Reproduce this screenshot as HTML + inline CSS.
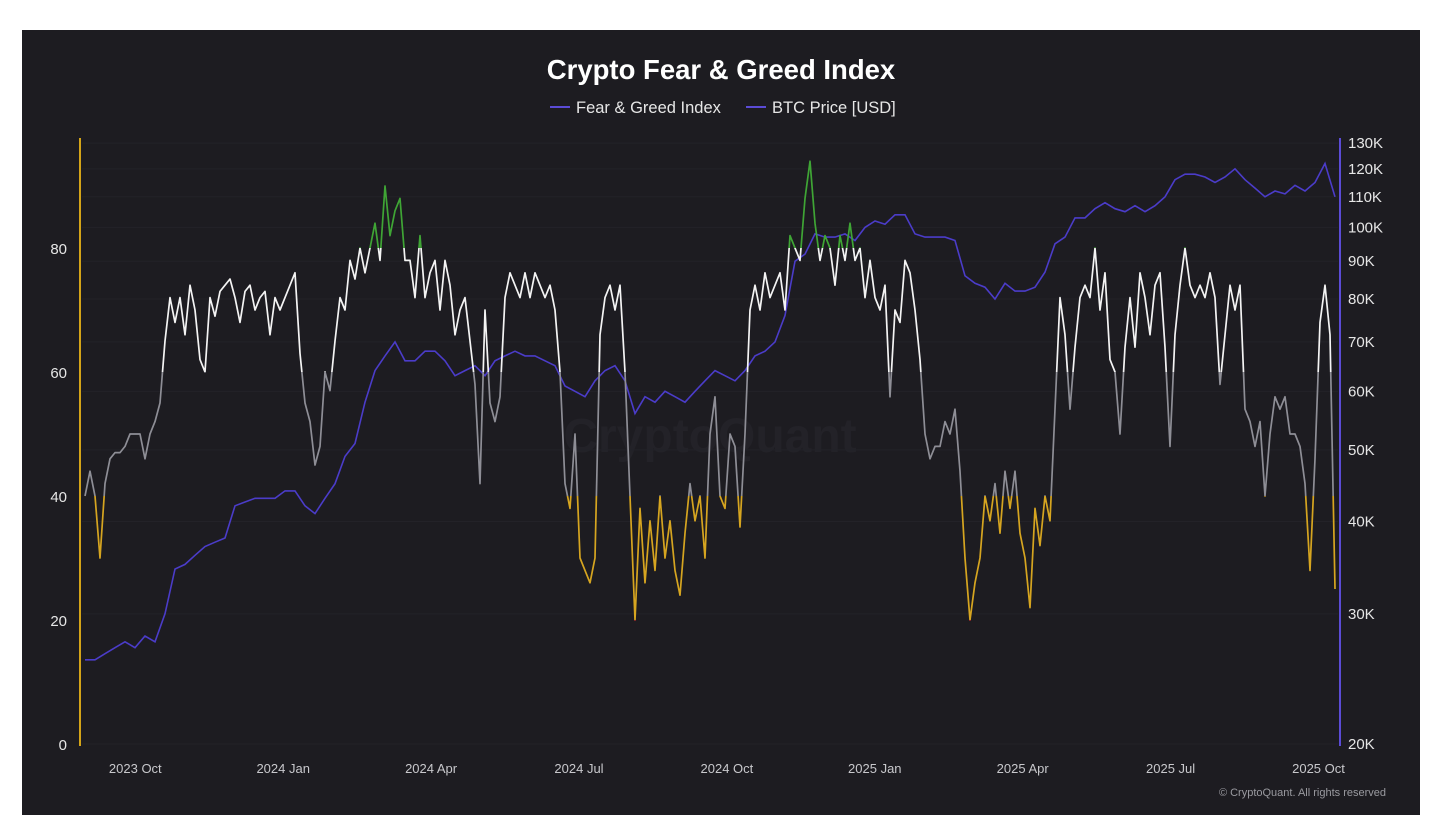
<!DOCTYPE html>
<html><head><meta charset="utf-8">
<style>
html,body{margin:0;padding:0;background:#fff;width:1454px;height:832px;overflow:hidden}
#panel{position:absolute;left:22px;top:30px;width:1398px;height:785px;background:#1d1c21}
svg{position:absolute;left:0;top:0}
text{font-family:"Liberation Sans",sans-serif}
</style></head><body>
<div id="panel"></div>
<svg id="chart" width="1454" height="832">
<text x="721" y="79" text-anchor="middle" fill="#fff" font-size="27.5" font-weight="bold">Crypto Fear &amp; Greed Index</text>
<g><line x1="550" y1="107" x2="570" y2="107" stroke="#5b4bd6" stroke-width="2"/><text x="576" y="113" fill="#e6e6e6" font-size="16.5">Fear &amp; Greed Index</text></g>
<g><line x1="746" y1="107" x2="766" y2="107" stroke="#5b4bd6" stroke-width="2"/><text x="772" y="113" fill="#e6e6e6" font-size="16.5">BTC Price [USD]</text></g>
<text x="710" y="452" text-anchor="middle" fill="#232228" font-size="48" font-weight="bold">CryptoQuant</text>
<g id="grid"></g><g id="yl"></g><g id="yr"></g><g id="xl"></g>
<line x1="80" y1="138" x2="80" y2="746" stroke="#d4a418" stroke-width="2"/>
<line x1="1340" y1="138" x2="1340" y2="746" stroke="#5b4bd6" stroke-width="2"/>
<defs id="defs"></defs>
<g id="series"></g>
<text x="1386" y="796" text-anchor="end" fill="#9a9aa0" font-size="11">© CryptoQuant. All rights reserved</text>
</svg>
<script>
const fgValues=[40,44,40,30,42,46,47,47,48,50,50,50,46,50,52,55,65,72,68,72,66,74,70,62,60,72,69,73,74,75,72,68,73,74,70,72,73,66,72,70,72,74,76,63,55,52,45,48,60,57,65,72,70,78,75,80,76,80,84,78,90,82,86,88,78,78,72,82,72,76,78,70,78,74,66,70,72,65,58,42,70,55,52,56,72,76,74,72,76,72,76,74,72,74,70,60,42,38,50,30,28,26,30,66,72,74,70,74,60,40,20,38,26,36,28,40,30,36,28,24,34,42,36,40,30,50,56,40,38,50,48,35,50,70,74,70,76,72,74,76,70,82,80,78,88,94,84,78,82,80,74,82,78,84,78,80,72,78,72,70,74,56,70,68,78,76,70,62,50,46,48,48,52,50,54,44,30,20,26,30,40,36,42,34,44,38,44,34,30,22,38,32,40,36,54,72,66,54,64,72,74,72,80,70,76,62,60,50,64,72,64,76,72,66,74,76,64,48,66,74,80,74,72,74,72,76,72,58,66,74,70,74,54,52,48,52,40,50,56,54,56,50,50,48,42,28,46,68,74,66,25];
const btcValues=[26,26,26.5,27,27.5,27,28,27.5,30,34.5,35,36,37,37.5,38,42,42.5,43,43,43,44,44,42,41,43,45,49,51,58,64,67,70,66,66,68,68,66,63,64,65,63,66,67,68,67,67,66,65,61,60,59,62,64,65,62,56,59,58,60,59,58,60,62,64,63,62,64,67,68,70,76,90,92,98,97,97,98,96,100,102,101,104,104,98,97,97,97,96,86,84,83,80,84,82,82,83,87,95,97,103,103,106,108,106,105,107,105,107,110,116,118,118,117,115,117,120,116,113,110,112,111,114,112,115,122,110];
const leftTicks=[0,20,40,60,80];
const rightTicks=[20,30,40,50,60,70,80,90,100,110,120,130];
const xTickLabels=["2023 Oct","2024 Jan","2024 Apr","2024 Jul","2024 Oct","2025 Jan","2025 Apr","2025 Jul","2025 Oct"];
const xTickMonths=[1,4,7,10,13,16,19,22,25];

const NS="http://www.w3.org/2000/svg";
const X0=85,X1=1335;
const xFg=i=>X0+(X1-X0)*i/(fgValues.length-1);
const xBtc=i=>X0+(X1-X0)*i/(btcValues.length-1);
const yL=v=>744-v*6.2;
const yR=v=>744-Math.log(v/20)*321;
const xMonth=m=>86+m*49.3;
function el(t,a,p){const e=document.createElementNS(NS,t);for(const k in a)e.setAttribute(k,a[k]);p.appendChild(e);return e;}
const grid=document.getElementById('grid'),yl=document.getElementById('yl'),yr=document.getElementById('yr'),xl=document.getElementById('xl');
rightTicks.forEach(v=>{
  const g=el('line',{x1:82,x2:1338,y1:yR(v),y2:yR(v),stroke:'#232228','stroke-width':1},grid);
  
  
  const t=el('text',{x:1348,y:yR(v)+5,fill:'#e6e6e6','font-size':15},yr);t.textContent=v+'K';
  
  
});
leftTicks.forEach(v=>{
  const t=el('text',{x:67,y:yL(v)+6,fill:'#e6e6e6','font-size':15,'text-anchor':'end'},yl);t.textContent=v;
  
  
});
xTickLabels.forEach((s,i)=>{
  const t=el('text',{x:xMonth(xTickMonths[i]),y:773,fill:'#c8c8cc','font-size':13,'text-anchor':'middle'},xl);t.textContent=s;
  
  
});
const series=document.getElementById('series'),defs=document.getElementById('defs');
const bd=btcValues.map((v,i)=>(i?'L':'M')+xBtc(i).toFixed(1)+','+yR(v).toFixed(1)).join('');
const bp=el('path',{d:bd,fill:'none',stroke:'#4b3cc9','stroke-width':1.6},series);


const fd=fgValues.map((v,i)=>(i?'L':'M')+xFg(i).toFixed(1)+','+yL(v).toFixed(1)).join('');
const bands=[[80,100,'#3fa535','green'],[60,80,'#f4f4f4','white'],[40,60,'#8e8e96','gray'],[20,40,'#d6a520','yellow'],[0,20,'#c9302c','red']];
bands.forEach(([lo,hi,c,n])=>{
  const cp=el('clipPath',{id:'cp-'+n},defs);
  el('rect',{x:0,y:yL(hi),width:1454,height:yL(lo)-yL(hi)},cp);
  const p=el('path',{d:fd,fill:'none',stroke:c,'stroke-width':1.7,'clip-path':'url(#cp-'+n+')','stroke-linejoin':'round'},series);
  
  
});
</script>
</body></html>
